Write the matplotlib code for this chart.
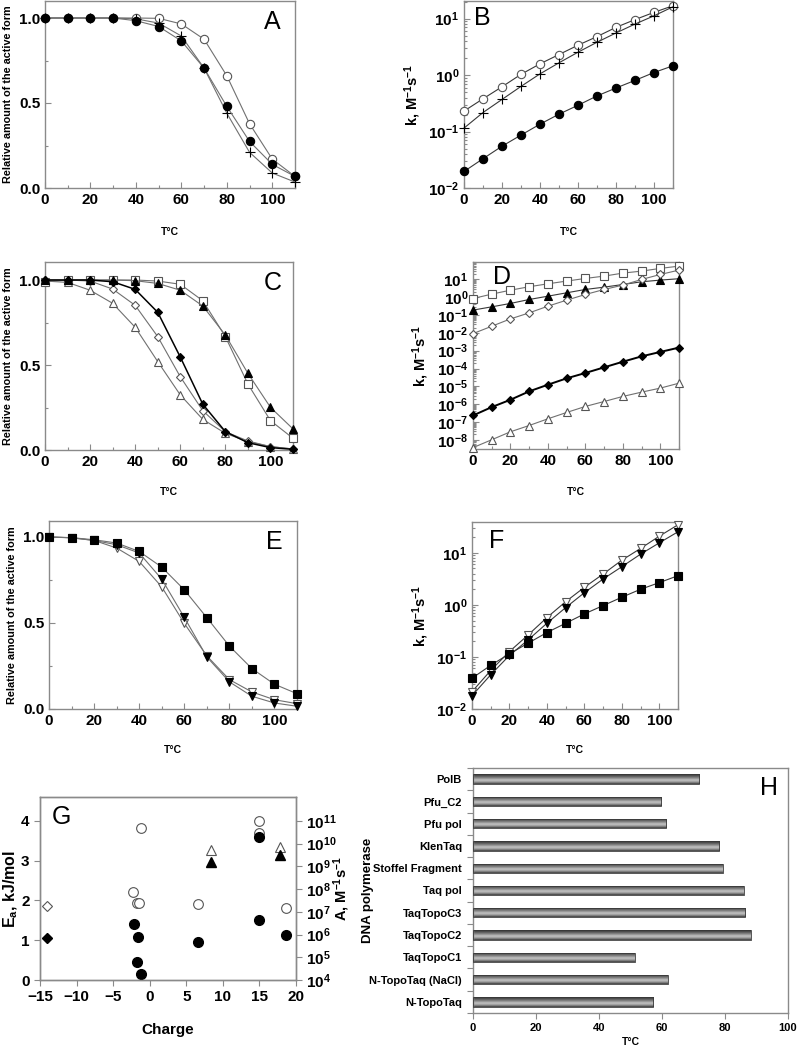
import numpy as np
import matplotlib
matplotlib.use("Agg")
import matplotlib.pyplot as plt
from matplotlib.ticker import FixedLocator, MultipleLocator, NullFormatter, LogLocator
from matplotlib.colors import LinearSegmentedColormap

plt.rcParams['font.family'] = ['Liberation Sans', 'DejaVu Sans']
plt.rcParams['font.weight'] = 'bold'
plt.rcParams['mathtext.fontset'] = 'custom'
plt.rcParams['mathtext.rm'] = 'Liberation Sans:bold'
plt.rcParams['mathtext.it'] = 'Liberation Sans:bold'
plt.rcParams['mathtext.bf'] = 'Liberation Sans:bold'
plt.rcParams['mathtext.default'] = 'regular'

# ---------------- data ----------------
T = [0, 10, 20, 30, 40, 50, 60, 70, 80, 90, 100, 110]

# Panel A
A_filled = [1.0, 1.0, 1.0, 1.0, 0.984, 0.95, 0.865, 0.705, 0.48, 0.274, 0.139, 0.068]
A_open = [1.0, 1.0, 1.0, 1.0, 1.0, 0.998, 0.965, 0.875, 0.66, 0.378, 0.17, 0.068]
A_plus = [1.0, 1.0, 1.0, 1.0, 0.995, 0.97, 0.894, 0.705, 0.44, 0.21, 0.088, 0.035]

# Panel B
B_open = [0.23, 0.38, 0.62, 1.03, 1.58, 2.31, 3.38, 4.8, 7.0, 9.6, 12.9, 16.9]
B_plus = [0.115, 0.217, 0.37, 0.63, 1.05, 1.65, 2.54, 3.81, 5.57, 8.0, 11.2, 16.2]
B_filled = [0.0196, 0.033, 0.055, 0.0865, 0.135, 0.203, 0.292, 0.427, 0.59, 0.805, 1.11, 1.46]

# Panel C
C_tri_f = [1.0, 1.0, 1.0, 1.0, 0.996, 0.98, 0.94, 0.847, 0.676, 0.451, 0.251, 0.124]
C_sq_o = [0.99, 1.0, 1.0, 1.0, 1.0, 0.994, 0.975, 0.878, 0.667, 0.388, 0.173, 0.069]
C_dia_f = [1.0, 1.0, 1.0, 0.99, 0.945, 0.81, 0.547, 0.269, 0.108, 0.043, 0.014, 0.004]
C_dia_o = [1.0, 1.0, 0.994, 0.947, 0.851, 0.667, 0.431, 0.231, 0.108, 0.053, 0.02, 0.006]
C_tri_o = [0.994, 0.986, 0.94, 0.863, 0.722, 0.52, 0.324, 0.18, 0.098, 0.049, 0.02, 0.006]

# Panel D
D_sq_o = [0.85, 1.5, 2.5, 3.9, 5.7, 8.1, 11.4, 15.4, 22.7, 29.4, 41.7, 56]
D_tri_f = [0.19, 0.29, 0.45, 0.75, 1.15, 1.78, 2.74, 3.7, 5.2, 7.4, 9.2, 11]
D_dia_o = [0.0091, 0.0236, 0.061, 0.133, 0.316, 0.687, 1.43, 2.74, 4.8, 10, 19, 33.5]
D_dia_f = [2.3e-7, 6.8e-7, 1.76e-6, 5.2e-6, 1.23e-5, 2.8e-5, 5.6e-5, 1.16e-4, 2.4e-4, 4.8e-4, 8.5e-4, 1.49e-3]
D_tri_o = [3.6e-9, 1e-8, 2.8e-8, 6.3e-8, 1.5e-7, 3.4e-7, 7.4e-7, 1.4e-6, 2.7e-6, 4.7e-6, 7.9e-6, 1.5e-5]

# Panel E
E_sq_f = [1.0, 0.996, 0.984, 0.965, 0.916, 0.825, 0.693, 0.531, 0.366, 0.235, 0.144, 0.089]
E_dtri_f = [1.0, 0.996, 0.98, 0.955, 0.907, 0.755, 0.533, 0.303, 0.158, 0.074, 0.035, 0.016]
E_dtri_o = [1.0, 0.995, 0.98, 0.936, 0.858, 0.71, 0.498, 0.309, 0.171, 0.099, 0.054, 0.031]

# Panel F
F_sq_f = [0.039, 0.069, 0.115, 0.184, 0.294, 0.443, 0.67, 0.967, 1.4, 1.99, 2.67, 3.63]
F_dtri_f = [0.018, 0.0455, 0.107, 0.213, 0.443, 0.885, 1.71, 3.13, 5.4, 9.4, 15.5, 25.3]
F_dtri_o = [0.0215, 0.055, 0.127, 0.265, 0.57, 1.15, 2.17, 3.9, 7.2, 12.1, 20.8, 34.5]

# Panel G  (open markers: Ea on left axis; filled markers: A on right log axis)
G_dia_charge = [-14.1]
G_dia_Ea = [1.86]
G_dia_A = [6.8e5]
G_circ_charge_o = [-1.2, -2.25, -1.8, -1.45, 6.6, 15.0, 15.0, 18.6]
G_circ_Ea = [3.82, 2.20, 1.93, 1.93, 1.91, 4.0, 3.69, 1.80]
G_circ_charge_f = [-2.15, -1.55, -1.78, -1.24, 6.6, 15.0, 15.0, 18.6]
G_circ_A = [3.0e6, 7.5e5, 6.0e4, 1.8e4, 4.5e5, 1.9e10, 4.4e6, 9.5e5]
G_tri_charge = [8.4, 17.8]
G_tri_Ea = [3.27, 3.34]
G_tri_A = [1.6e9, 3.1e9]

# Panel H
H_names = ['N-TopoTaq', 'N-TopoTaq (NaCl)', 'TaqTopoC1', 'TaqTopoC2', 'TaqTopoC3',
           'Taq pol', 'Stoffel Fragment', 'KlenTaq', 'Pfu pol', 'Pfu_C2', 'PolB']
H_vals = [57.3, 61.8, 51.3, 88.2, 86.4, 86.0, 79.3, 78.2, 61.3, 59.8, 71.8]

# ---------------- styles ----------------
W, H = 797, 1050
fig = plt.figure(figsize=(W / 100, H / 100), dpi=100)

SPINE = '#8a8a8a'
LINE = '#707070'
DLINE = '#383838'
TICKFS = 11


def axpos(x0, x1, y0, y1):
    return [x0 / W, 1 - y1 / H, (x1 - x0) / W, (y1 - y0) / H]


def style(ax, direction='in'):
    for s in ax.spines.values():
        s.set_color(SPINE)
        s.set_linewidth(1.0)
    ax.tick_params(which='both', direction=direction, color=SPINE, labelsize=TICKFS,
                   width=0.8)
    ax.tick_params(which='major', length=4)
    ax.tick_params(which='minor', length=2.5)
    for lab in ax.get_xticklabels() + ax.get_yticklabels():
        lab.set_fontweight('bold')


def xlabel_T(ax, offset_px, axh_px):
    ax.set_xlabel('T°C', fontsize=7.5, fontweight='bold')
    ax.xaxis.set_label_coords(0.5, -offset_px / axh_px)
    ax.xaxis.label.set_va('center')


def lin_panel(ax, letter, lx, ly):
    ax.set_xlim(0, 110)
    ax.xaxis.set_major_locator(MultipleLocator(20))
    ax.xaxis.set_minor_locator(MultipleLocator(10))
    ax.set_yticks([0.0, 0.5, 1.0])
    ax.set_yticklabels(['0.0', '0.5', '1.0'])
    ax.yaxis.set_minor_locator(MultipleLocator(0.25))
    ax.set_ylabel('Relative amount of the active form', fontsize=7.8, fontweight='bold')
    ax.text(lx, ly, letter, transform=ax.transAxes, fontsize=18, ha='center', va='center',
            fontweight='normal')
    style(ax)


def log_panel(ax, letter, lx, ly, decades):
    ax.set_yscale('log')
    ax.set_xlim(0, 110)
    ax.xaxis.set_major_locator(MultipleLocator(20))
    ax.xaxis.set_minor_locator(MultipleLocator(10))
    ticks = [10.0 ** d for d in decades]
    ax.yaxis.set_major_locator(FixedLocator(ticks))
    ax.set_yticklabels([r'$10^{%d}$' % d for d in decades])
    ax.yaxis.set_minor_locator(LogLocator(base=10, subs=np.arange(2, 10), numticks=100))
    ax.yaxis.set_minor_formatter(NullFormatter())
    ax.set_ylabel(r'k, M$^{-1}$s$^{-1}$', fontsize=10.5, fontweight='bold')
    ax.text(lx, ly, letter, transform=ax.transAxes, fontsize=18, ha='center', va='center',
            fontweight='normal')
    style(ax)


def series(ax, y, marker, filled, ms=5.5, color=LINE, lw=0.8, mec=None, z=3):
    fc = 'black' if filled else 'white'
    ec = mec if mec else ('black' if filled else '#555555')
    ax.plot(T, y, color=color, lw=lw, marker=marker, markersize=ms, markerfacecolor=fc,
            markeredgecolor=ec, markeredgewidth=0.8, zorder=z, clip_on=False)


# ---- A ----
axA = fig.add_axes(axpos(45, 295, 1, 188))
axA.set_ylim(0, 1.1)
series(axA, A_open, 'o', False, ms=6)
series(axA, A_plus, '+', True, ms=7, mec='black')
series(axA, A_filled, 'o', True, ms=6)
lin_panel(axA, 'A', 0.91, 0.89)
xlabel_T(axA, 44, 187)

# ---- B ----
axB = fig.add_axes(axpos(464, 673, 1, 188))
axB.set_ylim(0.01, 20.5)
series(axB, B_open, 'o', False, ms=6, color=DLINE)
series(axB, B_plus, '+', True, ms=7, mec='black', color=DLINE)
series(axB, B_filled, 'o', True, ms=6, color=DLINE)
log_panel(axB, 'B', 0.09, 0.91, [-2, -1, 0, 1])
xlabel_T(axB, 44, 187)

# ---- C ----
axC = fig.add_axes(axpos(45, 293, 262, 450))
axC.set_ylim(0, 1.106)
series(axC, C_tri_o, '^', False, ms=6)
series(axC, C_dia_o, 'D', False, ms=4.5)
series(axC, C_sq_o, 's', False, ms=6)
series(axC, C_tri_f, '^', True, ms=6)
series(axC, C_dia_f, 'D', True, ms=4.5, color='black', lw=1.1)
lin_panel(axC, 'C', 0.92, 0.89)
xlabel_T(axC, 42, 188)

# ---- D ----
axD = fig.add_axes(axpos(473, 679, 262, 449))
axD.set_ylim(10 ** -8.52, 10 ** 1.98)
series(axD, D_sq_o, 's', False, ms=6)
series(axD, D_tri_f, '^', True, ms=6, color=DLINE)
series(axD, D_dia_o, 'D', False, ms=4.5)
series(axD, D_dia_f, 'D', True, ms=4.5, color='black', lw=1.4)
series(axD, D_tri_o, '^', False, ms=6)
log_panel(axD, 'D', 0.14, 0.92, list(range(-8, 2)))
xlabel_T(axD, 43, 187)

# ---- E ----
axE = fig.add_axes(axpos(49, 297, 521, 709))
axE.set_ylim(0, 1.093)
series(axE, E_dtri_o, 'v', False, ms=6)
series(axE, E_dtri_f, 'v', True, ms=6)
series(axE, E_sq_f, 's', True, ms=6)
lin_panel(axE, 'E', 0.91, 0.89)
xlabel_T(axE, 41, 188)

# ---- F ----
axF = fig.add_axes(axpos(472, 678, 522, 709))
axF.set_ylim(0.01, 39)
series(axF, F_dtri_o, 'v', False, ms=6, color=DLINE)
series(axF, F_dtri_f, 'v', True, ms=6, color=DLINE)
series(axF, F_sq_f, 's', True, ms=6, color=DLINE)
log_panel(axF, 'F', 0.12, 0.9, [-2, -1, 0, 1])
xlabel_T(axF, 41, 187)

# ---- G ----
axG = fig.add_axes(axpos(40, 296, 797, 980))
axG.set_xlim(-15, 20)
axG.set_ylim(0, 4.6)
axG.set_xticks(range(-15, 21, 5))
axG.set_yticks(range(0, 5))
axG2 = axG.twinx()
axG2.set_yscale('log')
axG2.set_ylim(1e4, 10 ** (4 + 4.6 * 7 / 4))
gdec = list(range(4, 12))
axG2.yaxis.set_major_locator(FixedLocator([10.0 ** d for d in gdec]))
axG2.set_yticklabels([r'$10^{%d}$' % d for d in gdec])
axG2.yaxis.set_minor_locator(FixedLocator([]))
gms = 7
axG.plot(G_dia_charge, G_dia_Ea, 'D', ms=5, mfc='white', mec='#555555', mew=0.8, ls='none')
axG.plot(G_circ_charge_o, G_circ_Ea, 'o', ms=gms, mfc='white', mec='#555555', mew=0.8, ls='none')
axG.plot(G_tri_charge, G_tri_Ea, '^', ms=gms, mfc='white', mec='#555555', mew=0.8, ls='none')
axG2.plot(G_dia_charge, G_dia_A, 'D', ms=5, mfc='black', mec='black', ls='none')
axG2.plot(G_circ_charge_f, G_circ_A, 'o', ms=gms, mfc='black', mec='black', ls='none')
axG2.plot(G_tri_charge, G_tri_A, '^', ms=gms, mfc='black', mec='black', ls='none')
style(axG, direction='out')
style(axG2, direction='out')
axG.set_ylabel(r'E$_a$, kJ/mol', fontsize=11.5, fontweight='bold')
axG.yaxis.set_label_coords((11 - 40) / 256, 0.5)
axG.yaxis.label.set_va('center')
axG2.set_ylabel(r'A, M$^{-1}$s$^{-1}$', fontsize=10.5, fontweight='bold')
axG2.yaxis.set_label_coords((342 - 40) / 256, 0.5)
axG2.yaxis.label.set_va('center')
axG.set_xlabel('Charge', fontsize=11, fontweight='bold')
axG.xaxis.set_label_coords(0.5, -50 / 183)
axG.xaxis.label.set_va('center')
axG.text(0.085, 0.89, 'G', transform=axG.transAxes, fontsize=18, ha='center', va='center',
         fontweight='normal')

# ---- H ----
axH = fig.add_axes(axpos(473, 788, 768, 1013))
ypos = np.arange(len(H_names))
bars = axH.barh(ypos, H_vals, height=0.42, color='none', edgecolor='#3a3a3a', linewidth=0.6,
                zorder=3)
cmap = LinearSegmentedColormap.from_list('cyl', ['#3c3c3c', '#9a9a9a', '#c4c4c4', '#8a8a8a',
                                                 '#5a5a5a', '#2e2e2e'])
grad = np.linspace(0, 1, 64).reshape(-1, 1)
for b in bars:
    x0, y0 = b.get_x(), b.get_y()
    w, h = b.get_width(), b.get_height()
    im = axH.imshow(grad, cmap=cmap, aspect='auto', extent=(x0, x0 + w, y0 + h, y0),
                    zorder=2, interpolation='bilinear')
    im.set_clip_path(b)
axH.set_xlim(0, 100)
axH.set_ylim(-0.5, len(H_names) - 0.5)
axH.set_yticks(ypos)
axH.set_yticklabels(H_names, fontsize=8)
axH.yaxis.set_minor_locator(FixedLocator(np.arange(-0.5, len(H_names), 1.0)))
axH.set_xticks(range(0, 101, 20))
style(axH, direction='out')
axH.tick_params(axis='y', which='major', length=0, labelsize=8, pad=8)
axH.tick_params(axis='y', which='minor', length=4)
axH.tick_params(axis='x', labelsize=8)
axH.set_xlabel('T°C', fontsize=7.5, fontweight='bold')
axH.xaxis.set_label_coords(0.5, -29 / 245)
axH.xaxis.label.set_va('center')
axH.set_ylabel('DNA polymerase', fontsize=9.5, fontweight='bold')
axH.yaxis.set_label_coords(-(473 - 368) / 315, 0.5)
axH.yaxis.label.set_va('center')
for lab in axH.get_yticklabels() + axH.get_xticklabels():
    lab.set_fontweight('bold')
axH.text(0.94, 0.92, 'H', transform=axH.transAxes, fontsize=18, ha='center', va='center',
         fontweight='normal')

fig.savefig('out.png', dpi=100)
